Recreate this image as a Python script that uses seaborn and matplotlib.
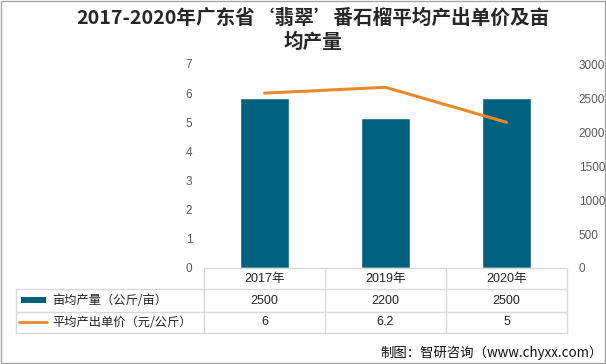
import numpy as np
import pandas as pd
import matplotlib
matplotlib.use("Agg")
import matplotlib.pyplot as plt
import matplotlib.transforms as mtransforms
from matplotlib.patches import Rectangle
from matplotlib.lines import Line2D
import seaborn as sns

# data
years = ["2017年", "2019年", "2020年"]
yield_per_mu = [2500, 2200, 2500]      # 亩均产量（公斤/亩）
unit_price = [6, 6.2, 5]               # 平均产出单价（元/公斤）
yield_label = "亩均产量（公斤/亩）"
price_label = "平均产出单价（元/公斤）"
title = "2017-2020年广东省‘翡翠’番石榴平均产出单价及亩\n均产量"
source = "制图：智研咨询（www.chyxx.com）"

bar_color = "#00617F"
line_color = "#E8892B"
grid_color = "#D9D9D9"
tick_color = "#595959"
num_font = ["Liberation Sans", "Noto Sans CJK SC"]

sns.set_theme(style="white")
plt.rcParams["font.family"] = ["Noto Sans CJK SC", "DejaVu Sans"]

W, H = 606, 364
fig = plt.figure(figsize=(W / 100, H / 100), dpi=100)


def fx(px):
    return px / W


def fy(py):
    return 1 - py / H


ax = fig.add_axes([fx(204), fy(268), fx(567) - fx(204), fy(64) - fy(268)])
df = pd.DataFrame({"year": years, "yield": yield_per_mu, "price": unit_price})

# bars on the right-hand scale
sns.barplot(data=df, x="year", y="yield", ax=ax, color=bar_color, width=0.4,
            saturation=1)
ax.set_ylim(0, 3000)
ax.set_yticks(np.arange(0, 3001, 500))

# line on the left-hand scale
ax2 = ax.twinx()
sns.lineplot(x=np.arange(len(years)), y=unit_price, ax=ax2, color=line_color,
             linewidth=2.2)
ax2.set_ylim(0, 7)
ax2.set_yticks(np.arange(0, 8, 1))
ax2.yaxis.tick_left()
ax.yaxis.tick_right()

for a in (ax, ax2):
    a.set_xlabel("")
    a.set_ylabel("")
    a.set_xticks([])
    for s in a.spines.values():
        s.set_visible(False)
    a.tick_params(axis="y", length=0, labelsize=8.5, labelcolor=tick_color)
    a.grid(False)
    for lab in a.get_yticklabels():
        lab.set_fontfamily("Liberation Sans")
ax.tick_params(axis="y", pad=8.5)
ax2.tick_params(axis="y", pad=8.5)
ax.set_xlim(-0.5, len(years) - 0.5)
ax2.set_xlim(-0.5, len(years) - 0.5)

# data table below the plot
trans = mtransforms.blended_transform_factory(ax.transData, fig.transFigure)
row_y = [268, 289, 311.5, 333]
left_x = -0.5 - (204 - 16) / 121.0
right_x = len(years) - 0.5
for i, py in enumerate(row_y):
    x0 = -0.5 if i == 0 else left_x
    fig.add_artist(Line2D([x0, right_x], [fy(py), fy(py)], transform=trans,
                          color=grid_color, lw=1))
for k in range(len(years) + 1):
    xv = -0.5 + k
    fig.add_artist(Line2D([xv, xv], [fy(268), fy(333)], transform=trans,
                          color=grid_color, lw=1))
fig.add_artist(Line2D([left_x, left_x], [fy(289), fy(333)], transform=trans,
                      color=grid_color, lw=1))

for i, y in enumerate(years):
    fig.text(i, fy(279), y, transform=trans, ha="center", va="center",
             fontsize=9, color="#222222", family=num_font)
    fig.text(i, fy(301), f"{yield_per_mu[i]}", transform=trans, ha="center",
             va="center", fontsize=9, color="#222222", family=num_font)
    fig.text(i, fy(322), f"{unit_price[i]:g}", transform=trans, ha="center",
             va="center", fontsize=9, color="#222222", family=num_font)

# legend keys in the row headers
fig.add_artist(Rectangle((fx(21), fy(302.5)), fx(46) - fx(21),
                         fy(296.5) - fy(302.5),
                         transform=fig.transFigure, color=bar_color, lw=0))
fig.add_artist(Line2D([fx(19), fx(47)], [fy(321.5), fy(321.5)],
                      transform=fig.transFigure, color=line_color, lw=2))
fig.text(fx(52), fy(301), yield_label, ha="left", va="center", fontsize=8.8,
         color="#222222")
fig.text(fx(52), fy(322), price_label, ha="left", va="center", fontsize=8.8,
         color="#222222")

fig.text(fx(313), fy(30), title, ha="center", va="center", fontsize=14.1,
         fontweight="bold", color="#262626", linespacing=1.3,
         multialignment="center")
fig.text(fx(603), fy(353), source, ha="right", va="center", fontsize=9.6,
         color="#111111")

fig.add_artist(Rectangle((0.001, 0.002), 0.997, 0.995,
                         transform=fig.transFigure, fill=False,
                         edgecolor="#A6A6A6", lw=1))

fig.savefig("out.png", dpi=100)
